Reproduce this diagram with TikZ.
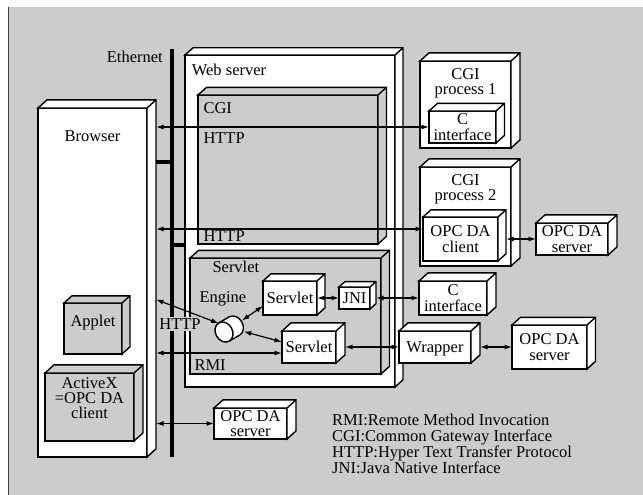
\documentclass[tikz,border=0pt]{standalone}
\usepackage{fontspec}
\setmainfont{Liberation Serif}
\usetikzlibrary{arrows.meta,fit,positioning}
\definecolor{panel}{gray}{0.8}

% top and side faces of a box node: name, fill, depth
\newcommand{\boxfaces}[3]{%
  \draw[cube side, fill=#2] (#1.north west) -- ++(#3,{-0.9*#3})
    -- ([shift={(#3,{-0.9*#3})}]#1.north east)
    -- ([shift={(#3,{-0.9*#3})}]#1.south east) -- (#1.south east)
    -- (#1.north east) -- cycle
    (#1.north east) -- ++(#3,{-0.9*#3});
}

\begin{document}
\begin{tikzpicture}[x=1pt, y=-1pt,
  font=\fontsize{16.5}{15.2}\selectfont,
  cube/.style = {draw, fill=white, line width=1.4pt, inner sep=0pt, outer sep=0pt, align=center, text depth=0pt},
  greycube/.style = {cube, fill=panel},
  cube side/.style = {draw, line width=1.4pt},
  lbl/.style = {inner sep=0pt, align=center},
  link/.style = {{Latex[length=7.5pt,width=5pt]}-{Latex[length=7.5pt,width=5pt]}, line width=1.2pt},
  ether/.style = {line width=3.5pt}]
  \useasboundingbox (0,0) rectangle (643,495);
  \fill[panel] (8,7) rectangle (643,495);
  \draw[line width=1pt, black!75] (8,7) -- (8,495);

  % browser
  \node[cube, fit={(38,108) (147,457)}] (browser) {};
  \boxfaces{browser}{white}{9}
  \coordinate (bside) at ([xshift=9pt]browser.east);
  \node[lbl, below=22.4pt of browser.north] (browserlbl) {Browser};
  \node[greycube, fit={(64,303) (122,354)}] (applet) {};
  \boxfaces{applet}{panel}{8}
  \node[lbl, below=11.4pt of applet.north] (appletlbl) {Applet};
  \node[greycube, fit={(45,373) (134,441)}] (activex) {};
  \boxfaces{activex}{panel}{9}
  \node[lbl, below=4pt of activex.north] (activexlbl) {ActiveX\\=OPC DA\\client};

  % web server
  \node[cube, fit={(185,55) (395,387)}] (web) {};
  \boxfaces{web}{white}{8}
  \node[lbl, below right=8.4pt and 6.7pt of web.north west] (weblbl) {Web server};
  \node[greycube, fit={(198,95) (378,244)}] (cgi) {};
  \boxfaces{cgi}{panel}{8.5}
  \node[lbl, below right=7.7pt and 5.3pt of cgi.north west] (cgilbl) {CGI};
  \node[lbl, below right=37pt and 5.3pt of cgi.north west] (http1) {HTTP};
  \node[lbl, above right=2.4pt and 5.3pt of cgi.south west] (http2) {HTTP};
  \node[greycube, fit={(190,258) (381,374)}] (srv) {};
  \boxfaces{srv}{panel}{8.5}
  \node[lbl, below right=3.1pt and 22.3pt of srv.north west] (srvlbl) {Servlet};
  \node[lbl, below right=33.4pt and 9.3pt of srv.north west] (englbl) {Engine};
  \node[lbl, above right=3.4pt and 4.3pt of srv.south west] (rmilbl) {RMI};
  \node[cube, minimum width=54pt, minimum height=34pt] (sv1) at (290,298) {Servlet};
  \boxfaces{sv1}{white}{8}
  \node[cube, minimum width=31pt, minimum height=22pt] (jni) at (354.5,298) {JNI};
  \boxfaces{jni}{white}{6}
  \node[cube, minimum width=54pt, minimum height=32pt] (sv2) at (309,347) {Servlet};
  \boxfaces{sv2}{white}{9}
  % engine drum
  \node[circle, minimum size=26pt, inner sep=0pt] (engine) at (231,328) {};
  \begin{scope}[shift={(224,332)}, rotate=30, line width=1.4pt]
    \filldraw[fill=white] (12,0) ellipse [x radius=8.5, y radius=10.5];
    \fill[white] (0,-10.5) rectangle (12,10.5);
    \draw (0,-10.5) -- (12,-10.5) (0,10.5) -- (12,10.5);
    \filldraw[fill=white] (0,0) ellipse [x radius=8.5, y radius=10.5];
  \end{scope}

  % processes and servers
  \node[cube, fit={(420,61) (511,148)}] (cgip1) {};
  \boxfaces{cgip1}{white}{9}
  \node[lbl, below=7.4pt of cgip1.north] (cgip1lbl) {CGI\\process 1};
  \node[cube, minimum width=67pt, minimum height=32pt] (cif1) at (462.5,127) {C\\interface};
  \boxfaces{cif1}{white}{8.5}
  \node[cube, fit={(420,167) (511,266)}] (cgip2) {};
  \boxfaces{cgip2}{white}{9}
  \node[lbl, below=7.4pt of cgip2.north] (cgip2lbl) {CGI\\process 2};
  \node[cube, minimum width=75pt, minimum height=44pt] (opcc) at (460.5,239) {OPC DA\\client};
  \boxfaces{opcc}{white}{8}
  \node[cube, minimum width=72pt, minimum height=32pt] (opcs1) at (572,239) {OPC DA\\server};
  \boxfaces{opcs1}{white}{9}
  \node[cube, minimum width=68pt, minimum height=34pt] (cif2) at (453,298) {C\\interface};
  \boxfaces{cif2}{white}{9}
  \node[cube, minimum width=72pt, minimum height=32pt] (wrap) at (435,347) {Wrapper};
  \boxfaces{wrap}{white}{9}
  \node[cube, minimum width=75pt, minimum height=44pt] (opcs2) at (549.5,347) {OPC DA\\server};
  \boxfaces{opcs2}{white}{8.5}
  \node[cube, minimum width=73pt, minimum height=31pt] (opcs3) at (250.5,423.5) {OPC DA\\server};
  \boxfaces{opcs3}{white}{9}

  % ethernet
  \coordinate (ethtop) at (172,49);
  \coordinate (ethbot) at (172,457);
  \draw[ether] (ethtop) -- (ethbot);
  \node[lbl, below left=1.4pt and 9pt of ethtop] (ethlbl) {Ethernet};
  \coordinate (ethb) at (172,162);
  \coordinate (ethw) at (172,245);
  \draw[ether] (ethb) -- (ethb -| bside);
  \draw[ether] (ethw) -- (ethw -| web.west);

  % links
  \draw[link] (cif1.west) -- (cif1.west -| bside);
  \coordinate (h2) at ([yshift=10pt]opcc.west);
  \draw[link] (h2) -- (h2 -| bside);
  \draw[link] ([xshift=8pt]opcc.east) -- (opcs1.west);
  \draw[link] (sv1.east) -- (jni.west);
  \draw[link] ([xshift=6pt]jni.east) -- (cif2.west);
  \draw[link] ([xshift=9pt]sv2.east) -- (wrap.west);
  \draw[link] ([xshift=9pt]wrap.east) -- (opcs2.west);
  \coordinate (rmi) at ([yshift=-6pt]sv2.west);
  \draw[link] (rmi) -- (rmi -| bside);
  \draw[link] (opcs3.west) -- (opcs3.west -| bside);
  \draw[link] (engine) -- ([yshift=-8pt]sv1.west);
  \draw[link] (engine) -- ([yshift=5pt]sv2.west);
  \draw[link] (engine) -- ([yshift=-17pt]bside);
  \node[lbl, fill=panel, inner sep=1.5pt] (httpeth) at (180,324) {HTTP};

  \node[lbl, align=left, anchor=north west, font=\fontsize{16.5}{16}\selectfont] (legend) at (332,414)
    {RMI:Remote Method Invocation\\CGI:Common Gateway Interface\\HTTP:Hyper Text Transfer Protocol\\JNI:Java Native Interface};
\end{tikzpicture}
\end{document}
